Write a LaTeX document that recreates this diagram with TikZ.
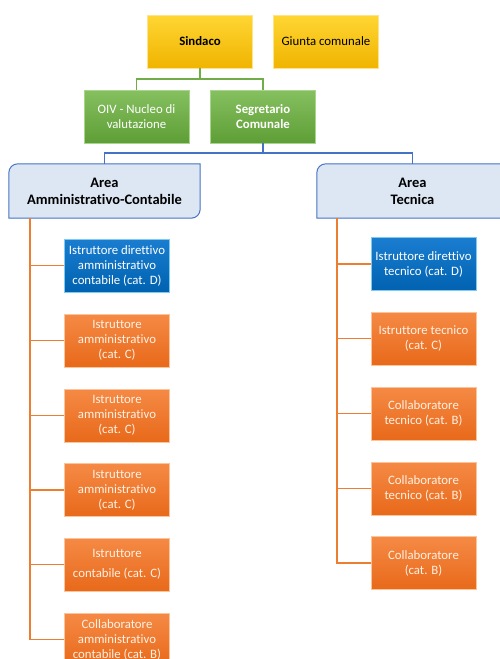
\documentclass[tikz,border=0pt]{standalone}
\usepackage{fontspec}
\setmainfont[Ligatures=NoCommon]{Carlito}
\usetikzlibrary{backgrounds}

\definecolor{yelTop}{HTML}{FFD633}
\definecolor{yelBot}{HTML}{F0B400}
\definecolor{yelEdge}{HTML}{FFE38A}
\definecolor{grnTop}{HTML}{86C060}
\definecolor{grnBot}{HTML}{5E9E36}
\definecolor{grnEdge}{HTML}{A9D48C}
\definecolor{bluTop}{HTML}{1A7DD0}
\definecolor{bluBot}{HTML}{0062B0}
\definecolor{bluEdge}{HTML}{7CCBF0}
\definecolor{orgTop}{HTML}{F58A45}
\definecolor{orgBot}{HTML}{E8691A}
\definecolor{orgEdge}{HTML}{FBC49A}
\definecolor{areaFill}{HTML}{DDE7F4}
\definecolor{grnLine}{HTML}{70AD47}
\definecolor{bluLine}{HTML}{4472C4}
\definecolor{orgLine}{HTML}{ED7D31}
\definecolor{paleText}{HTML}{FFF1E4}

\begin{document}
\begin{tikzpicture}[
            x = 1pt, y = 1pt, % one unit per pixel of the reference
            box/.style = {rectangle, minimum width=105pt, minimum height=53pt,
                inner sep=1pt, align=center, thin,
                font=\fontsize{12.8}{15}\selectfont},
            yellowbox/.style = {box, top color=yelTop, bottom color=yelBot, draw=yelEdge},
            greenbox/.style = {box, top color=grnTop, bottom color=grnBot, draw=grnEdge, text=white},
            bluebox/.style = {box, top color=bluTop, bottom color=bluBot, draw=bluEdge, text=white},
            orangebox/.style = {box, top color=orgTop, bottom color=orgBot, draw=orgEdge, text=paleText},
            area/.style = {rectangle, minimum width=191pt, minimum height=54pt,
                inner sep=1pt, align=center,
                font=\bfseries\fontsize{14.5}{17}\selectfont},
            areashape/.style = {fill=areaFill, draw=bluLine, line width=1pt},
            greenline/.style = {draw=grnLine, line width=1.6pt},
            blueline/.style = {draw=bluLine, line width=1.6pt},
            orangeline/.style = {draw=orgLine, line width=1.6pt}
            ]
            \useasboundingbox (0,0) rectangle (499,-659);

            \node[yellowbox] (1) at (200,-41.5) {\textbf{Sindaco}};
            \node[yellowbox] (0) at (326,-41.5) {Giunta comunale};

            \node[greenbox] (2) at (136.5,-116.5) {OIV - Nucleo di\\valutazione};
            \node[greenbox] (3) at (263,-116.5) {\textbf{Segretario}\\\textbf{Comunale}};

            \node[area] (4) at (104.5,-191) {Area\\Amministrativo-Contabile};
            \node[area] (5) at (412.5,-191) {Area\\Tecnica};
            \begin{scope}[on background layer]
                \foreach \n in {4,5}
                    \path[areashape] (\n.south west) -- ([yshift=-9pt]\n.north west)
                    arc[start angle=180, end angle=90, radius=9pt] -- (\n.north east)
                    -- ([yshift=9pt]\n.south east)
                    arc[start angle=0, end angle=-90, radius=9pt] -- cycle;
            \end{scope}

            % left column
            \node[bluebox] (6) at (117,-265.5) {Istruttore direttivo\\amministrativo\\contabile (cat. D)};
            \node[orangebox] (7) at (117,-340.5) {Istruttore\\amministrativo\\(cat. C)};
            \node[orangebox] (8) at (117,-415.5) {Istruttore\\amministrativo\\(cat. C)};
            \node[orangebox] (9) at (117,-490) {Istruttore\\amministrativo\\(cat. C)};
            \node[orangebox] (10) at (117,-564.5) {Istruttore\\[5pt]contabile (cat. C)};
            \node[orangebox] (11) at (117,-639.5) {Collaboratore\\amministrativo\\contabile (cat. B)};

            % right column
            \node[bluebox] (12) at (423.5,-264) {Istruttore direttivo\\tecnico (cat. D)};
            \node[orangebox] (13) at (423.5,-338.5) {Istruttore tecnico\\(cat. C)};
            \node[orangebox] (14) at (423.5,-413.5) {Collaboratore\\tecnico (cat. B)};
            \node[orangebox] (15) at (423.5,-488.5) {Collaboratore\\tecnico (cat. B)};
            \node[orangebox] (16) at (423.5,-563) {Collaboratore\\(cat. B)};

            \draw[greenline] (1.south) -- ++(0,-11) -| (2.north);
            \draw[greenline] (1.south) -- ++(0,-11) -| (3.north);
            \draw[blueline] (3.south) -- ++(0,-10) -| (4.north);
            \draw[blueline] (3.south) -- ++(0,-10) -| (5.north);

            \foreach \n in {6,...,11}
                \draw[orangeline] ([xshift=21pt]4.south west) |- (\n.west);
            \foreach \n in {12,...,16}
                \draw[orangeline] ([xshift=20pt]5.south west) |- (\n.west);
\end{tikzpicture}
\end{document}
